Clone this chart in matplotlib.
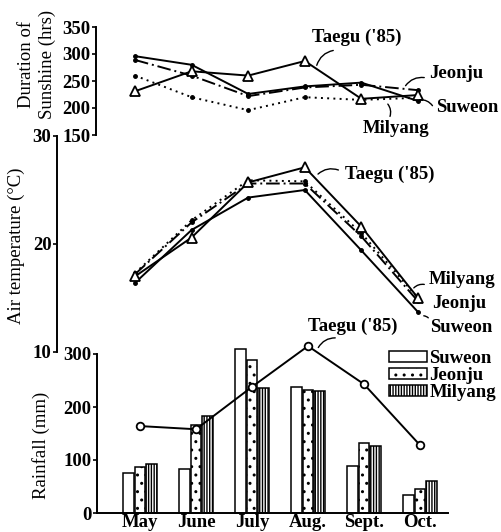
import numpy as np
import matplotlib
matplotlib.use("Agg")
import matplotlib.pyplot as plt
from matplotlib.patches import Patch, FancyArrowPatch

plt.rcParams['font.family'] = ['Liberation Serif', 'DejaVu Serif']
plt.rcParams['hatch.linewidth'] = 1.0

months = ['May', 'June', 'July', 'Aug.', 'Sept.', 'Oct.']

# Duration of sunshine (hrs)
sun_taegu = [231, 268, 260, 287, 217, 224]
sun_suweon = [296, 280, 226, 240, 247, 213]
sun_jeonju = [289, 260, 222, 238, 243, 233]
sun_milyang = [260, 220, 196, 220, 215, 219]

# Air temperature (C)
temp_taegu = [17.0, 20.6, 25.7, 27.1, 21.6, 15.0]
temp_suweon = [16.4, 21.3, 24.3, 25.0, 19.4, 13.7]
temp_jeonju = [17.2, 22.0, 25.6, 25.6, 20.7, 14.7]
temp_milyang = [17.3, 22.2, 25.9, 25.8, 21.0, 15.0]

# Rainfall (mm)
rain_suweon = [75, 83, 309, 238, 89, 34]
rain_jeonju = [87, 166, 289, 232, 132, 45]
rain_milyang = [92, 183, 236, 230, 126, 60]
rain_taegu = [164, 158, 238, 315, 243, 128]

W, H = 501, 532
fig = plt.figure(figsize=(W / 100, H / 100), dpi=100)


def px(x, y):
    # top-left pixel position -> figure fraction
    return (x / W, 1 - y / H)


def add_ax(left, top, right, bottom):
    ax = fig.add_axes([left / W, 1 - bottom / H, (right - left) / W, (bottom - top) / H])
    ax.patch.set_alpha(0)
    for s in ['top', 'right', 'bottom']:
        ax.spines[s].set_visible(False)
    ax.spines['left'].set_linewidth(1.4)
    return ax


def style_ticks(ax):
    ax.tick_params(axis='y', direction='out', length=3, width=1.2, pad=1)
    for t in ax.get_yticklabels() + ax.get_xticklabels():
        t.set_fontsize(13.5)
        t.set_fontweight('bold')


x = np.arange(len(months))
lw = 1.4
ann_font = dict(fontsize=13.5, fontweight='bold')
title_size = 13.5


def leader(a, b):
    fig.add_artist(FancyArrowPatch(
        px(*a), px(*b), transform=fig.transFigure, arrowstyle='-',
        connectionstyle='arc3,rad=0.35', lw=1.0, color='black'))


# ---- sunshine panel
ax1 = add_ax(96, 27, 448, 135)
ax1.plot(x, sun_suweon, '-', color='black', lw=lw, marker='o', ms=2.5)
ax1.plot(x, sun_jeonju, color='black', lw=lw, ls=(0, (7, 2, 1, 2)), marker='o', ms=2.5)
ax1.plot(x, sun_milyang, color='black', lw=lw, ls=(0, (1, 2.2)), marker='o', ms=2.5)
ax1.plot(x, sun_taegu, '-', color='black', lw=lw, marker='^', ms=7, mfc='white', mew=1.3)
ax1.set_ylim(150, 350)
ax1.set_xlim((96 - 135) / 56.6, (448 - 135) / 56.6)
ax1.set_yticks([150, 200, 250, 300, 350])
ax1.set_xticks([])
style_ticks(ax1)

# ---- temperature panel
ax2 = add_ax(57, 136, 448, 352)
ax2.plot(x, temp_suweon, '-', color='black', lw=lw, marker='o', ms=2.5)
ax2.plot(x, temp_jeonju, color='black', lw=lw, ls=(0, (7, 2, 1, 2)), marker='o', ms=2.5)
ax2.plot(x, temp_milyang, color='black', lw=lw, ls=(0, (1, 2.2)), marker='o', ms=2.5)
ax2.plot(x, temp_taegu, '-', color='black', lw=lw, marker='^', ms=7, mfc='white', mew=1.3)
ax2.set_ylim(10, 30)
ax2.set_xlim((57 - 135) / 56.6, (448 - 135) / 56.6)
ax2.set_yticks([10, 20, 30])
ax2.set_xticks([])
style_ticks(ax2)

# ---- rainfall panel
ax3 = add_ax(97, 354, 448, 513)
ax3.spines['bottom'].set_visible(True)
ax3.spines['bottom'].set_linewidth(1.4)
bw = 0.19
gap = 0.02
b1 = ax3.bar(x - bw - gap, rain_suweon, bw, color='white', edgecolor='black', lw=1.1)
b2 = ax3.bar(x, rain_jeonju, bw, color='white', edgecolor='black', lw=1.1, hatch='..')
b3 = ax3.bar(x + bw + gap, rain_milyang, bw, color='white', edgecolor='black', lw=1.1, hatch='||||||')
for bars in (b1, b2, b3):
    for b in bars:
        b.set_clip_on(False)
ax3.plot(x, rain_taegu, '-', color='black', lw=lw, marker='o', ms=5.5, mfc='white',
         mew=1.3, clip_on=False)
ax3.set_ylim(0, 300)
ax3.set_xlim((97 - 140) / 56, (448 - 140) / 56)
ax3.set_yticks([0, 100, 200, 300])
ax3.set_xticks(x)
ax3.set_xticklabels(months)
ax3.tick_params(axis='x', length=0, pad=1)
style_ticks(ax3)

handles = [Patch(facecolor='white', edgecolor='black', lw=1.1),
           Patch(facecolor='white', edgecolor='black', lw=1.1, hatch='..'),
           Patch(facecolor='white', edgecolor='black', lw=1.1, hatch='||||||')]
ax3.legend(handles, ['Suweon', 'Jeonju', 'Milyang'], loc='upper left',
           bbox_to_anchor=(px(389, 350)), bbox_transform=fig.transFigure,
           frameon=False, handlelength=2.0, handleheight=0.5, handletextpad=0.15,
           labelspacing=0.0, borderpad=0, borderaxespad=0,
           prop=dict(size=13.5, weight='bold'))

# ---- axis titles
fig.text(*px(27, 64), 'Duration of', rotation=90, ha='center', va='center', fontsize=title_size)
fig.text(*px(47, 64), 'Sunshine (hrs)', rotation=90, ha='center', va='center', fontsize=title_size)
fig.text(*px(16, 246), 'Air temperature (°C)', rotation=90, ha='center', va='center', fontsize=title_size)
fig.text(*px(41, 445), 'Rainfall (mm)', rotation=90, ha='center', va='center', fontsize=title_size)

# ---- series labels
fig.text(*px(357, 37), "Taegu ('85)", ha='center', va='center', **ann_font)
leader((336, 50), (316, 68))
fig.text(*px(429, 73), 'Jeonju', ha='left', va='center', **ann_font)
leader((427, 78), (404, 88))
fig.text(*px(436, 107), 'Suweon', ha='left', va='center', **ann_font)
leader((434, 108), (417, 100))
fig.text(*px(396, 129), 'Milyang', ha='center', va='center', **ann_font)
leader((389, 119), (386, 102))

fig.text(*px(345, 174), "Taegu ('85)", ha='left', va='center', **ann_font)
leader((341, 171), (316, 176))
fig.text(*px(429, 279), 'Milyang', ha='left', va='center', **ann_font)
leader((427, 285), (412, 290))
fig.text(*px(432, 303), 'Jeonju', ha='left', va='center', **ann_font)
fig.text(*px(430, 327), 'Suweon', ha='left', va='center', **ann_font)
leader((430, 320), (421, 316))

fig.text(*px(308, 326), "Taegu ('85)", ha='left', va='center', **ann_font)
leader((338, 338), (317, 350))

fig.savefig('out.png', dpi=100)
